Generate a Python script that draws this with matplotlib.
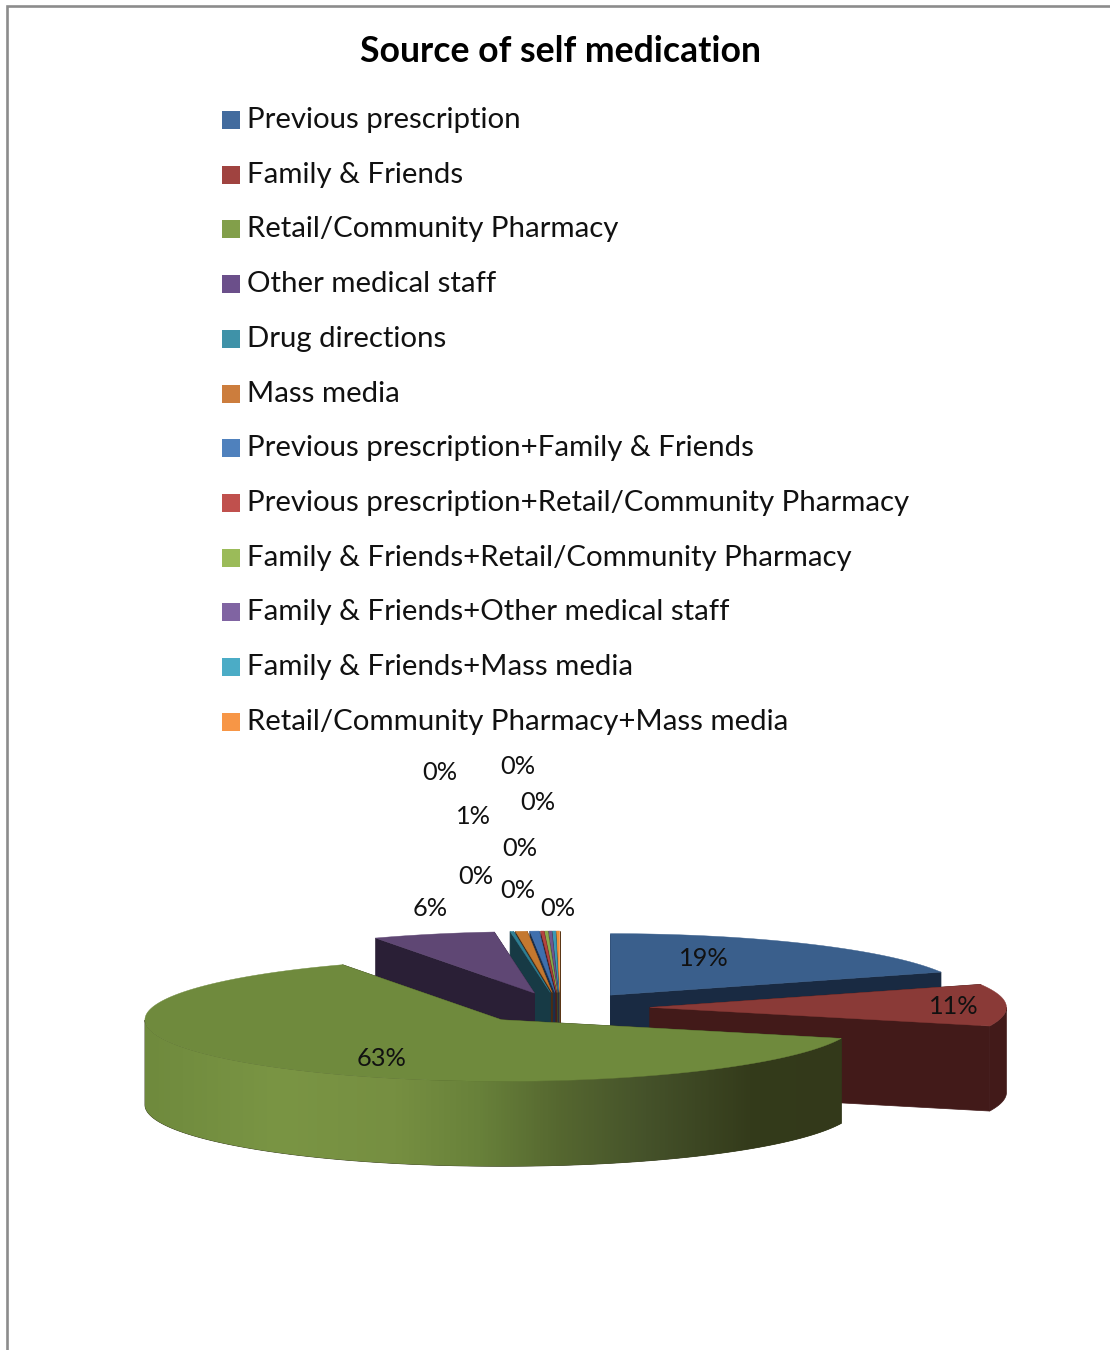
import numpy as np
import matplotlib
matplotlib.use('Agg')
import matplotlib.pyplot as plt
from matplotlib.colors import LinearSegmentedColormap
from matplotlib.patches import Polygon, Rectangle

plt.rcParams['font.family'] = ['Lato', 'DejaVu Sans']

sources = ['Previous prescription', 'Family & Friends', 'Retail/Community Pharmacy',
           'Other medical staff', 'Drug directions', 'Mass media',
           'Previous prescription+Family & Friends',
           'Previous prescription+Retail/Community Pharmacy',
           'Family & Friends+Retail/Community Pharmacy',
           'Family & Friends+Other medical staff',
           'Family & Friends+Mass media',
           'Retail/Community Pharmacy+Mass media']
percent = [18.9, 11.0, 62.75, 5.55, 0.16, 0.52, 0.42, 0.14, 0.14, 0.14, 0.14, 0.14]

legend_colors = ['#426b9e', '#a04340', '#829f4a', '#6b4f8a', '#3f92a8', '#cc7d3d',
                 '#4f81bd', '#c0504d', '#9bbb59', '#8064a2', '#4bacc6', '#f79646']
top_colors = ['#3a5f8c', '#8a3a37', '#6f8a3d', '#5f4774', '#2f7f94', '#c4782f',
              '#3f6fad', '#b5443f', '#8cab4c', '#70568f', '#3a9ab5', '#ee9038']
wall_colors = ['#192a42', '#421a19', '#33391a', '#2a1f36', '#173a45', '#4a2c14',
               '#1c2f4a', '#4c1e1c', '#3c4a20', '#30243f', '#1a4450', '#5a3616']

# pie geometry, in figure pixels
cx, cy = 560, 1008
rx, ry = 356.5, 61.5
depth = 85
explode = 90

# colour of the big slice's outer wall, left to right
green_wall = LinearSegmentedColormap.from_list('green_wall', [
    (0.00, '#6f8a3d'), (0.19, '#7a9544'), (0.36, '#768f41'), (0.48, '#68813a'),
    (0.59, '#566830'), (0.72, '#45522a'), (0.87, '#343b1b'), (1.00, '#33391a')])

fig = plt.figure(figsize=(11.1, 13.5), dpi=100)
ax = fig.add_axes([0, 0, 1, 1])
ax.axis('off')

# outer chart frame, open at the right and bottom
ax.plot([7.2, 7.2, 1110], [1350, 6, 6], color='#8c8c8c', lw=1.9, solid_joinstyle='miter')

ax.text(560, 51, 'Source of self medication', fontsize=25.6, fontweight='bold',
        ha='center', va='center', color='black')

# legend rows
for i, (name, col) in enumerate(zip(sources, legend_colors)):
    y = 119 + i * 54.7
    ax.add_patch(Rectangle((222, y - 8), 18, 18, facecolor=col, edgecolor='none'))
    ax.text(247, y + 1, name, fontsize=21.2, ha='left', va='center', color='#111111')


def rim(apex, angles):
    return np.column_stack([apex[0] + rx * np.sin(angles), apex[1] - ry * np.cos(angles)])


def extrude(pts):
    return np.vstack([pts, (pts + [0, depth])[::-1]])


edges = np.radians(np.concatenate([[0], np.cumsum(percent)]) * 3.6)
ramp = np.linspace(0, 1, 512).reshape(1, -1)

# back slices first, the big one last
order = [11, 10, 9, 8, 7, 6, 5, 4, 3, 0, 1, 2]
for i in order:
    a0, a1 = edges[i], edges[i + 1]
    mid = (a0 + a1) / 2
    apex = np.array([cx + explode * np.sin(mid), cy - explode * np.cos(mid) * ry / rx])
    angles = np.linspace(a0, a1, max(int(np.degrees(a1 - a0) * 3), 2))
    arc = rim(apex, angles)

    # flat cut faces
    for end in (arc[0], arc[-1]):
        quad = extrude(np.array([apex, end]))
        ax.add_patch(Polygon(quad, facecolor=wall_colors[i], edgecolor=wall_colors[i], lw=0.5))

    # outer wall, only the part facing the front
    front = np.cos(angles) < 0
    if front.sum() > 1:
        wall = Polygon(extrude(arc[front]), facecolor=wall_colors[i], edgecolor=wall_colors[i], lw=0.5)
        ax.add_patch(wall)
        if i == 2:
            # smooth shading, clipped to the wall outline
            x0, x1 = arc[front][:, 0].min(), arc[front][:, 0].max()
            im = ax.imshow(ramp, cmap=green_wall, extent=(x0, x1, 1350, 0), aspect='auto', zorder=1)
            im.set_clip_path(wall)

    ax.add_patch(Polygon(np.vstack([apex, arc]), facecolor=top_colors[i],
                         edgecolor=top_colors[i], lw=0.3))

# value labels
label_x = [704, 954, 382, 430, 476, 473, 440, 518, 538, 520, 518, 558]
label_y = [958, 1006, 1058, 909, 876, 816, 773, 766, 803, 848, 890, 908]
total = sum(percent)
for x, y, v in zip(label_x, label_y, percent):
    ax.text(x, y, '%.0f%%' % (v / total * 100), fontsize=18.3, ha='center', va='center', color='#111111')

ax.set_xlim(0, 1110)
ax.set_ylim(1350, 0)

fig.savefig('out.png', dpi=100)
